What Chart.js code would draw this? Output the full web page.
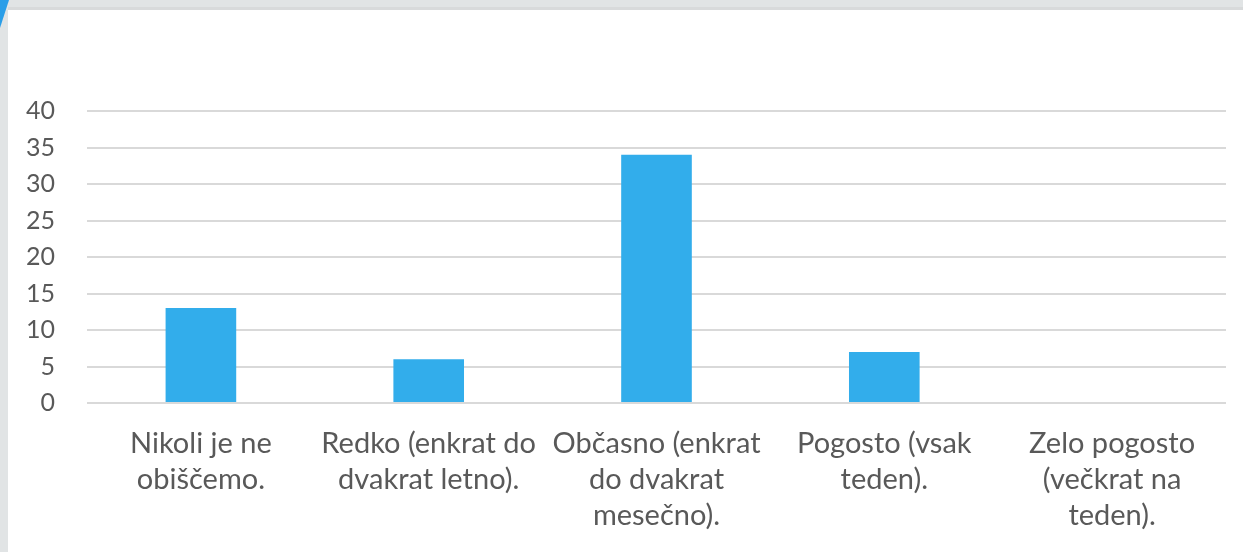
<!DOCTYPE html>
<html>
<head>
<meta charset="utf-8">
<script src="https://cdn.jsdelivr.net/npm/chart.js"></script>
<style>
  body { margin: 0; background: #e1e4e5; width: 1243px; height: 552px; overflow: hidden; position: relative; }
  #corner { position: absolute; left: 0; top: 0; width: 9px; height: 28px; background: #2a9ee8; clip-path: polygon(0 0, 100% 0, 0 100%); }
  #topline { position: absolute; left: 8px; top: 7px; width: 1235px; height: 3px; background: #d8dadb; }
  #panel { position: absolute; left: 8px; top: 10px; width: 1235px; height: 542px; background: #fff; }
</style>
</head>
<body>
<div id="topline"></div>
<div id="panel"><canvas id="chart"></canvas></div>
<div id="corner"></div>
<script>
// categories and counts
var categories = [
    ['Nikoli je ne', 'obiščemo.'],
    ['Redko (enkrat do', 'dvakrat letno).'],
    ['Občasno (enkrat', 'do dvakrat', 'mesečno).'],
    ['Pogosto (vsak', 'teden).'],
    ['Zelo pogosto', '(večkrat na', 'teden).']
];
var counts = [13, 6, 34, 7, 0];
var yTicks = [0, 5, 10, 15, 20, 25, 30, 35, 40];

var canvas = document.getElementById('chart');
canvas.width = 1235;
canvas.height = 542;
var ctx = canvas.getContext('2d');

var myChart = new Chart(ctx, {
    type: 'bar',
    data: {
        labels: categories,
        datasets: [{
            data: counts,
            backgroundColor: '#32adeb',
            barPercentage: 0.62,
            categoryPercentage: 0.5
        }]
    },
    options: {
        responsive: false,
        animation: false,
        layout: { padding: { top: 101, right: 17, left: 0, bottom: 10 } },
        plugins: { legend: { display: false }, tooltip: { enabled: false } },
        scales: {
            x: {
                grid: { display: false },
                border: { display: false },
                afterFit: function (axis) { axis.height = 139; },
                ticks: {
                    color: '#595959',
                    font: { family: 'Lato', size: 29, lineHeight: 1.24 },
                    maxRotation: 0,
                    autoSkip: false,
                    padding: 15
                }
            },
            y: {
                min: 0,
                max: 40,
                afterBuildTicks: function (axis) {
                    axis.ticks = yTicks.map(function (v) { return { value: v }; });
                },
                afterFit: function (axis) { axis.width = 79; },
                grid: { color: '#d9d9d9', lineWidth: 2, drawTicks: false },
                border: { display: false },
                ticks: {
                    color: '#595959',
                    font: { family: 'Lato', size: 25 },
                    padding: 32
                }
            }
        }
    }
});
</script>
</body>
</html>
